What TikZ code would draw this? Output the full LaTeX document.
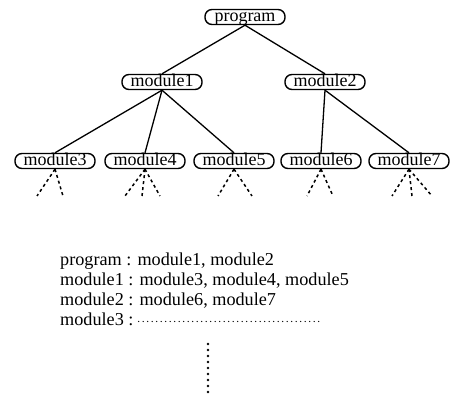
\documentclass[tikz,border=0pt]{standalone}
\usepackage{fontspec}
\setmainfont{Liberation Serif}
\begin{document}
\begin{tikzpicture}[x=1pt,y=-1pt,
  mod/.style={draw, line width=1.4pt, rounded corners=7pt, minimum width=80pt,
    inner xsep=0pt, inner ysep=0.5pt, text height=11.5pt, text depth=2.5pt,
    font=\fontsize{18}{18}\selectfont},
  edge/.style={line width=1.3pt},
  leg/.style={line width=1.5pt, dash pattern=on 3pt off 3pt},
  txt/.style={anchor=base west, inner sep=0pt, font=\fontsize{18.2}{18}\selectfont},
  hdots/.style={line width=1.4pt, line cap=round, dash pattern=on 0pt off 4.5pt},
  vdots/.style={line width=2.6pt, line cap=round, dash pattern=on 0pt off 6pt}]
\useasboundingbox (0,0) rectangle (451,398);
% tree nodes
\node[mod] (p)  at (245,17)  {program};
\node[mod] (m1) at (162,82)  {module1};
\node[mod] (m2) at (325,82)  {module2};
\node[mod] (m3) at (55,161)  {module3};
\node[mod] (m4) at (145,161) {module4};
\node[mod] (m5) at (234,161) {module5};
\node[mod] (m6) at (321,161) {module6};
\node[mod] (m7) at (409,161) {module7};
% edges
\draw[edge] (p.south) -- (m1.north);
\draw[edge] (p.south) -- (m2.north);
\draw[edge] (m1.south) -- (m3.north);
\draw[edge] (m1.south) -- (m4.north);
\draw[edge] (m1.south) -- (m5.north);
\draw[edge] (m2.south) -- (m6.north);
\draw[edge] (m2.south) -- (m7.north);
% dashed legs
\coordinate (a3) at (37,196);  \coordinate (b3) at (63,196);
\coordinate (a4) at (125,196); \coordinate (b4) at (142,196); \coordinate (c4) at (160,196);
\coordinate (a5) at (218,196); \coordinate (b5) at (252,196);
\coordinate (a6) at (307,196); \coordinate (b6) at (333,196);
\coordinate (a7) at (392,196); \coordinate (b7) at (412,196); \coordinate (c7) at (432,196);
\draw[leg] (m3.south) -- (a3); \draw[leg] (m3.south) -- (b3);
\draw[leg] (m4.south) -- (a4); \draw[leg] (m4.south) -- (b4); \draw[leg] (m4.south) -- (c4);
\draw[leg] (m5.south) -- (a5); \draw[leg] (m5.south) -- (b5);
\draw[leg] (m6.south) -- (a6); \draw[leg] (m6.south) -- (b6);
\draw[leg] (m7.south) -- (a7); \draw[leg] (m7.south) -- (b7); \draw[leg] (m7.south) -- (c7);
% text lines
\node[txt] (l1) at (60,266) {program : module1, module2};
\node[txt] (l2) at (60,286) {module1 : module3, module4, module5};
\node[txt] (l3) at (60,306) {module2 : module6, module7};
\node[txt] (l4) at (60,326) {module3 :};
\coordinate (h1) at ([xshift=5pt,yshift=4.5pt]l4.base east);
\coordinate (h2) at (322,321.5);
\draw[hdots] (h1) -- (h2);
\coordinate (v1) at (208,344);
\coordinate (v2) at (208,397);
\draw[vdots] (v1) -- (v2);
\end{tikzpicture}
\end{document}
